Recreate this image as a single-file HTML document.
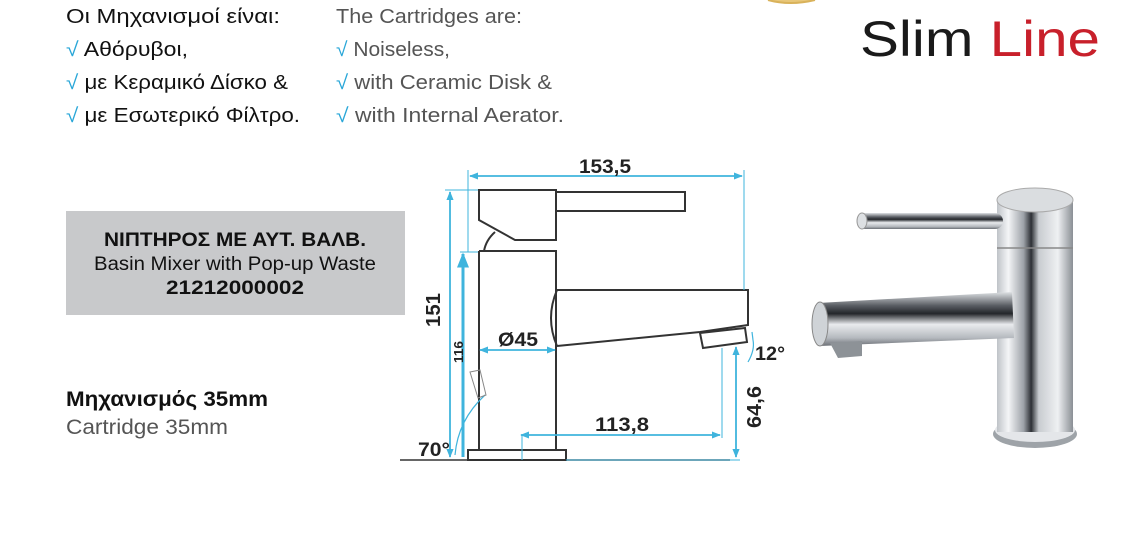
<!DOCTYPE html>
<html><head><meta charset="utf-8"><style>
html,body{margin:0;padding:0;background:#fff;}
svg{display:block}
</style></head><body>
<svg width="1133" height="552" viewBox="0 0 1133 552" xmlns="http://www.w3.org/2000/svg">
<defs>
<marker id="a" viewBox="0 0 10 10" refX="9" refY="5" markerWidth="5" markerHeight="5" orient="auto-start-reverse"><path d="M0,1 L10,5 L0,9 z" fill="#3fb4dd"/></marker>
<linearGradient id="chrome" x1="0" x2="1" y1="0" y2="0">
<stop offset="0" stop-color="#bfc3c8"/><stop offset="0.15" stop-color="#f4f5f7"/><stop offset="0.35" stop-color="#9da2a8"/><stop offset="0.45" stop-color="#2d3035"/><stop offset="0.55" stop-color="#c8ccd0"/><stop offset="0.8" stop-color="#eef0f2"/><stop offset="1" stop-color="#8a8f95"/>
</linearGradient>
<linearGradient id="chromeV" x1="0" x2="0" y1="0" y2="1">
<stop offset="0" stop-color="#dfe2e5"/><stop offset="0.25" stop-color="#5a5e64"/><stop offset="0.4" stop-color="#23262a"/><stop offset="0.6" stop-color="#e9ebee"/><stop offset="0.85" stop-color="#b5b9be"/><stop offset="1" stop-color="#6c7076"/>
</linearGradient>
</defs>

<g font-family="Liberation Sans, sans-serif" font-size="20">
<text x="66" y="23" fill="#111" textLength="214" lengthAdjust="spacingAndGlyphs">Οι Μηχανισμοί είναι:</text>
<text x="66" y="56" fill="#111" textLength="122" lengthAdjust="spacingAndGlyphs"><tspan fill="#2aa7d8">√</tspan> Αθόρυβοι,</text>
<text x="66" y="89" fill="#111" textLength="222" lengthAdjust="spacingAndGlyphs"><tspan fill="#2aa7d8">√</tspan> με Κεραμικό Δίσκο &amp;</text>
<text x="66" y="122" fill="#111" textLength="234" lengthAdjust="spacingAndGlyphs"><tspan fill="#2aa7d8">√</tspan> με Εσωτερικό Φίλτρο.</text>
<text x="336" y="23" fill="#555" textLength="186" lengthAdjust="spacingAndGlyphs">The Cartridges are:</text>
<text x="336" y="56" fill="#555" textLength="114" lengthAdjust="spacingAndGlyphs"><tspan fill="#2aa7d8">√</tspan> Noiseless,</text>
<text x="336" y="89" fill="#555" textLength="216" lengthAdjust="spacingAndGlyphs"><tspan fill="#2aa7d8">√</tspan> with Ceramic Disk &amp;</text>
<text x="336" y="122" fill="#555" textLength="228" lengthAdjust="spacingAndGlyphs"><tspan fill="#2aa7d8">√</tspan> with Internal Aerator.</text>
</g>
<path d="M768,0 Q790,6 815,0" fill="#e8c77a" stroke="#d9b25a" stroke-width="2"/>
<text x="860" y="56" font-family="Liberation Sans, sans-serif" font-size="50" fill="#1a1a1a" textLength="240" lengthAdjust="spacingAndGlyphs">Slim <tspan fill="#c8202b">Line</tspan></text>

<rect x="66" y="211" width="339" height="104" fill="#c8c9cb"/>
<g font-family="Liberation Sans, sans-serif" text-anchor="middle" fill="#111">
<text x="235" y="246" font-size="19" font-weight="bold" textLength="262" lengthAdjust="spacingAndGlyphs">ΝΙΠΤΗΡΟΣ  ΜΕ ΑΥΤ. ΒΑΛΒ.</text>
<text x="235" y="270" font-size="19" textLength="282" lengthAdjust="spacingAndGlyphs">Basin Mixer with Pop-up Waste</text>
<text x="235" y="294" font-size="19" font-weight="bold" textLength="138" lengthAdjust="spacingAndGlyphs">21212000002</text>
</g>
<text x="66" y="406" font-family="Liberation Sans, sans-serif" font-size="21" font-weight="bold" fill="#111" textLength="202" lengthAdjust="spacingAndGlyphs">Μηχανισμός 35mm</text>
<text x="66" y="434" font-family="Liberation Sans, sans-serif" font-size="21" fill="#555" textLength="162" lengthAdjust="spacingAndGlyphs">Cartridge 35mm</text>

<g fill="none" stroke="#333" stroke-width="2">
<path d="M479,190 L556,190 L556,240 L515,240 L479,220 Z"/>
<rect x="556" y="192" width="129" height="19"/>
<path d="M484,251 Q486,240 495,232"/>
<path d="M479,251 L556,251 L556,450 M479,251 L479,450"/>
<rect x="468" y="450" width="98" height="10"/>
<path d="M557,290 L748,290 L748,325 L700,332 L557,346"/>
<path d="M557,290 Q545,318 557,346"/>
<path d="M700,333 L745,328 L747,342 L703,348 Z"/>
</g>
<line x1="400" y1="460" x2="730" y2="460" stroke="#333" stroke-width="1.5"/>
<g stroke="#3fb4dd" stroke-width="1.8" fill="none">
<line x1="470" y1="176" x2="742" y2="176" marker-start="url(#a)" marker-end="url(#a)"/>
<line x1="468" y1="170" x2="468" y2="252" stroke-width="1"/>
<line x1="744" y1="170" x2="744" y2="290" stroke-width="1"/>
<line x1="450" y1="192" x2="450" y2="457" marker-start="url(#a)" marker-end="url(#a)"/>
<line x1="445" y1="190" x2="478" y2="190" stroke-width="1"/>
<line x1="463" y1="254" x2="463" y2="457" stroke-width="3" marker-start="url(#a)"/>
<line x1="460" y1="252" x2="478" y2="252" stroke-width="1"/>
<line x1="480" y1="350" x2="555" y2="350" marker-start="url(#a)" marker-end="url(#a)"/>
<line x1="521" y1="435" x2="720" y2="435" marker-start="url(#a)" marker-end="url(#a)"/>
<line x1="522" y1="435" x2="522" y2="460" stroke-width="1"/>
<line x1="722" y1="348" x2="722" y2="438" stroke-width="1"/>
<line x1="736" y1="347" x2="736" y2="457" marker-start="url(#a)" marker-end="url(#a)"/>
<line x1="566" y1="460" x2="740" y2="460" stroke-width="1"/>
<path d="M752,332 L753,340 Q755,350 748,362" stroke-width="1.2"/>
<path d="M455,455 Q458,420 485,395" stroke-width="1.2"/>
</g>
<g stroke="#888" stroke-width="1" fill="none"><path d="M470,372 L480,370 L486,395 L478,398 Z"/></g>
<g font-family="Liberation Sans, sans-serif" font-weight="bold" fill="#222" font-size="19">
<text x="605" y="173" text-anchor="middle" textLength="52" lengthAdjust="spacingAndGlyphs">153,5</text>
<text x="518" y="346" text-anchor="middle" textLength="40" lengthAdjust="spacingAndGlyphs">Ø45</text>
<text x="622" y="431" text-anchor="middle" textLength="54" lengthAdjust="spacingAndGlyphs">113,8</text>
<text x="755" y="360" textLength="30" lengthAdjust="spacingAndGlyphs">12°</text>
<text x="418" y="456" textLength="32" lengthAdjust="spacingAndGlyphs">70°</text>
<text transform="translate(440,310) rotate(-90)" text-anchor="middle" font-size="20" textLength="34" lengthAdjust="spacingAndGlyphs">151</text>
<text transform="translate(463,352) rotate(-90)" text-anchor="middle" font-size="13" textLength="22" lengthAdjust="spacingAndGlyphs">116</text>
<text transform="translate(761,407) rotate(-90)" text-anchor="middle" font-size="20" textLength="42" lengthAdjust="spacingAndGlyphs">64,6</text>
</g>

<g>
<ellipse cx="1035" cy="434" rx="42" ry="14" fill="#9ea3a8"/>
<ellipse cx="1035" cy="430" rx="40" ry="12" fill="#e4e6e9"/>
<rect x="997" y="200" width="76" height="232" fill="url(#chrome)"/>
<ellipse cx="1035" cy="200" rx="38" ry="12" fill="#dadde0" stroke="#aaa"/>
<line x1="997" y1="248" x2="1073" y2="248" stroke="#888" stroke-width="1.5"/>
<rect x="857" y="213" width="146" height="16" rx="8" fill="url(#chromeV)"/>
<ellipse cx="862" cy="221" rx="5" ry="8" fill="#dde0e3" stroke="#999"/>
<path d="M818,303 L1012,292 L1014,338 L820,346 Z" fill="url(#chromeV)"/>
<ellipse cx="820" cy="324" rx="8" ry="22" fill="#cfd3d7" stroke="#888"/>
<path d="M830,343 L862,341 L862,356 L838,358 Z" fill="#8d9297"/>
</g>
</svg>
</body></html>
